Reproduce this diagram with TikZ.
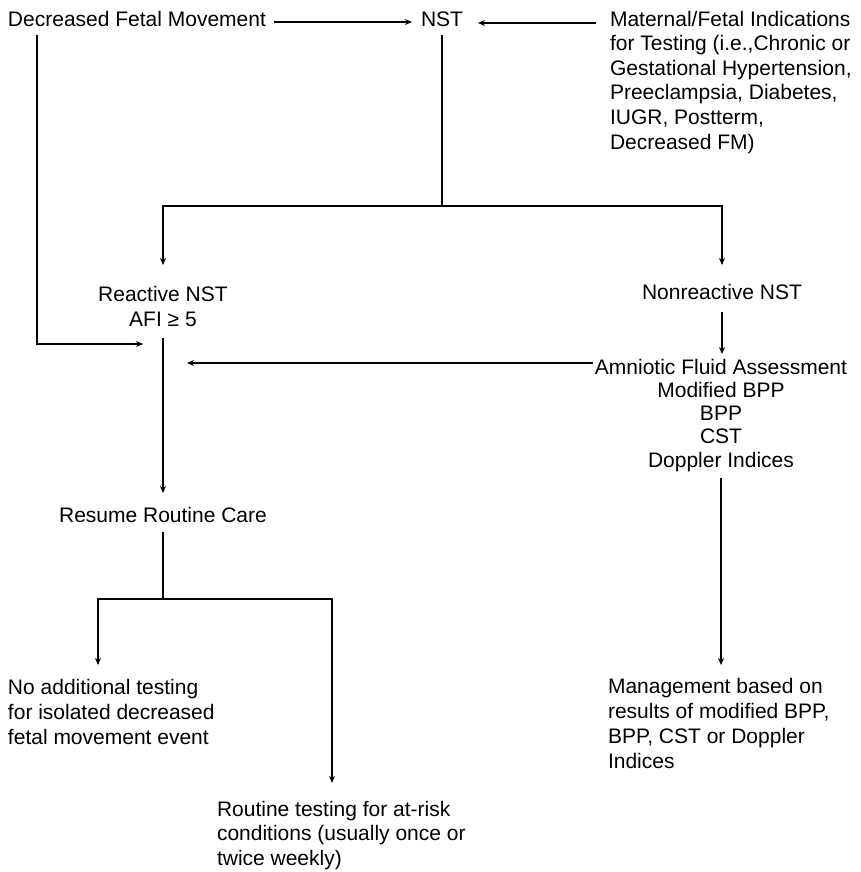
\documentclass[tikz,border=0pt]{standalone}
\usepackage{fontspec}
\setmainfont{Liberation Sans}
\usetikzlibrary{arrows.meta}
\begin{document}
\begin{tikzpicture}[x=1pt,y=-1pt,
  txt/.style={font=\fontsize{21}{24.5}\selectfont, inner sep=0pt, outer sep=0pt},
  ln/.style={line width=1.6pt},
  arr/.style={ln, -{Stealth[length=7pt,width=6pt]}}]
\path[use as bounding box, fill=white] (0,0) rectangle (861,872);

% base anchor of a multi-line node = baseline of its last line
\node[txt, anchor=base west] (dfm) at (8,27) {Decreased Fetal Movement};
\node[txt, anchor=base west] (nst) at (421,27) {NST};
\node[txt, anchor=base west, align=left] (mat) at (610,149) {Maternal/Fetal Indications\\for Testing (i.e.,Chronic or\\Gestational Hypertension,\\Preeclampsia, Diabetes,\\IUGR, Postterm,\\Decreased FM)};
\node[txt, anchor=base, align=center] (react) at (163,326) {Reactive NST\\AFI ≥ 5};
\node[txt, anchor=base] (nonreact) at (722,299) {Nonreactive NST};
\node[txt, font=\fontsize{21}{23.2}\selectfont, anchor=base, align=center] (amnio) at (721,467) {Amniotic Fluid Assessment\\Modified BPP\\BPP\\CST\\Doppler Indices};
\node[txt, anchor=base] (resume) at (163,522) {Resume Routine Care};
\node[txt, font=\fontsize{21}{25}\selectfont, anchor=base west, align=left] (noadd) at (8,744) {No additional testing\\for isolated decreased\\fetal movement event};
\node[txt, font=\fontsize{21}{25}\selectfont, anchor=base west, align=left] (mgmt) at (608,768) {Management based on\\results of modified BPP,\\BPP, CST or Doppler\\Indices};
\node[txt, font=\fontsize{21}{24.5}\selectfont, anchor=base west, align=left] (routine) at (217,865) {Routine testing for at-risk\\conditions (usually once or\\twice weekly)};

\coordinate (y206) at (0,206);
\coordinate (y363) at (0,363);
\coordinate (y599) at (0,599);
\coordinate (m) at (163,344);
\coordinate (x187) at (187,0);
\coordinate (ay) at ([xshift=-2pt]amnio.west |- y363);
\coordinate (atop) at ([yshift=113pt]amnio.base);
\coordinate (mt) at ([yshift=103pt]mgmt.base west);
\coordinate (ny) at ([xshift=-14pt,yshift=126pt]mat.base west);
\coordinate (nx) at ([xshift=15pt]nst.east);

% top row
\draw[arr] ([xshift=8pt,yshift=5pt]dfm.base east) -- ([xshift=-9pt,yshift=5pt]nst.base west);
\draw[arr] (ny) -- (ny -| nx);
% NST split
\draw[ln] ([yshift=-8pt]nst.south) -- (nst.south |- y206);
\draw[arr] (nst.south |- y206) -| ([yshift=61pt]react.base);
\draw[arr] (nst.south |- y206) -| ([yshift=34pt]nonreact.base);
% decreased FM bypass
\draw[arr] ([xshift=29pt,yshift=-8pt]dfm.south west) |- ([xshift=-20pt]m);
% reactive -> resume
\draw[ln] ([yshift=-12pt]react.base) -- (m);
\draw[arr] (m) -- ([yshift=29pt]resume.base);
% nonreactive -> amnio
\draw[arr] ([yshift=-13pt]nonreact.base) -- (nonreact.base |- atop);
% amnio -> back left
\draw[arr] (ay) -- (ay -| x187);
% amnio -> management
\draw[arr] ([yshift=-11pt]amnio.base) -- (amnio.base |- mt);
% resume split
\draw[ln] ([yshift=-10pt]resume.base) -- (resume.base |- y599);
\draw[arr] (resume.base |- y599) -| ([xshift=90pt,yshift=79pt]noadd.base west);
\draw[arr] (resume.base |- y599) -| ([xshift=115pt,yshift=82pt]routine.base west);
\end{tikzpicture}
\end{document}
